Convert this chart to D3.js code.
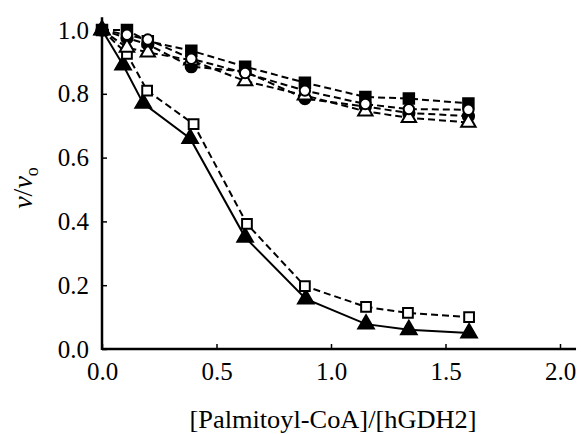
<!DOCTYPE html>
<html>
<head>
<meta charset="utf-8">
<script src="https://cdn.jsdelivr.net/npm/d3@7"></script>
<style>
  body { margin: 0; background: #fff; }
</style>
</head>
<body>
<svg id="chart" width="581" height="434"></svg>
<script>
// ratio [Palmitoyl-CoA]/[hGDH2]
const xTop = [0, 0.109, 0.2, 0.39, 0.625, 0.886, 1.15, 1.34, 1.6];
const xOpenSq = [0, 0.109, 0.197, 0.4, 0.633, 0.886, 1.153, 1.336, 1.603];
const xFilledTri = [0, 0.092, 0.18, 0.385, 0.625, 0.89, 1.153, 1.34, 1.603];

// v/vo
const filledSquares = [1.0, 1.0, 0.965, 0.935, 0.885, 0.835, 0.79, 0.785, 0.77];
const openCircles = [1.0, 0.985, 0.97, 0.91, 0.865, 0.81, 0.768, 0.752, 0.75];
const filledCircles = [1.0, 0.975, 0.955, 0.885, 0.87, 0.785, 0.76, 0.74, 0.73];
const openTriangles = [1.0, 0.945, 0.93, 0.905, 0.84, 0.795, 0.745, 0.725, 0.71];
const openSquares = [1.0, 0.925, 0.81, 0.705, 0.392, 0.197, 0.132, 0.113, 0.1];
const filledTriangles = [1.0, 0.89, 0.77, 0.66, 0.35, 0.157, 0.078, 0.06, 0.05];

const xTicks = [0, 0.5, 1.0, 1.5, 2.0];
const yTicks = [0, 0.2, 0.4, 0.6, 0.8, 1.0];

const FONT = "'Liberation Serif', 'Times New Roman', serif";
const svg = d3.select("#chart");
const x = d3.scaleLinear().domain([0, 2]).range([102, 560]);
const y = d3.scaleLinear().domain([0, 1]).range([349, 30]);
const fmt = d3.format(".1f");

// bottom curves first so the top group (and its filled square at the origin) sits above
const series = [
  { xs: xFilledTri, ys: filledTriangles, shape: d3.symbolTriangle, fill: "#000", dash: null, size: 105 },
  { xs: xOpenSq, ys: openSquares, shape: d3.symbolSquare, fill: "#fff", dash: "7,4", size: 95 },
  { xs: xTop, ys: filledCircles, shape: d3.symbolCircle, fill: "#000", dash: "7,4", size: 100 },
  { xs: xTop, ys: openTriangles, shape: d3.symbolTriangle, fill: "#fff", dash: "7,4", size: 90 },
  { xs: xTop, ys: filledSquares, shape: d3.symbolSquare, fill: "#000", dash: "7,4", size: 110 },
  { xs: xTop, ys: openCircles, shape: d3.symbolCircle, fill: "#fff", dash: "7,4", size: 85 }
];

// axes
const xAxis = d3.axisBottom(x).tickValues(xTicks).tickFormat(fmt)
  .tickSizeInner(-5).tickSizeOuter(0).tickPadding(13);
const yAxis = d3.axisLeft(y).tickValues(yTicks).tickFormat(fmt)
  .tickSizeInner(-5).tickSizeOuter(0).tickPadding(13);

const gx = svg.append("g").attr("transform", "translate(0," + y(0) + ")").call(xAxis);
const gy = svg.append("g").attr("transform", "translate(" + x(0) + ",0)").call(yAxis);
[gx, gy].forEach(g => {
  g.attr("font-family", null).attr("font-size", null);
  g.select(".domain").remove();
  g.selectAll(".tick line").attr("stroke", "#000").attr("stroke-width", 1.5);
  g.selectAll(".tick text")
    .style("font-family", FONT)
    .style("font-size", "25px")
    .attr("fill", "#000");
});
gx.selectAll(".tick text").attr("dy", "0.71em");

svg.append("line")
  .attr("x1", x(0)).attr("x2", x(2.07))
  .attr("y1", y(0)).attr("y2", y(0))
  .attr("stroke", "#000").attr("stroke-width", 2.5);
svg.append("line")
  .attr("x1", x(0)).attr("x2", x(0))
  .attr("y1", y(0) + 1).attr("y2", y(1.04))
  .attr("stroke", "#000").attr("stroke-width", 2.5);

// lines
const line = d3.line().x(d => x(d[0])).y(d => y(d[1]));
series.forEach(s => {
  const pts = s.xs.map((v, i) => [v, s.ys[i]]);
  svg.append("path")
    .attr("d", line(pts))
    .attr("fill", "none")
    .attr("stroke", "#000")
    .attr("stroke-width", 2)
    .attr("stroke-dasharray", s.dash);
});

// markers (open circle left off the origin so the filled square shows there)
series.forEach(s => {
  const sym = d3.symbol().type(s.shape).size(s.size);
  const pts = s.xs.map((v, i) => [v, s.ys[i]]);
  svg.append("g").selectAll("path")
    .data(s.ys === openCircles ? pts.slice(1) : pts)
    .join("path")
    .attr("d", sym)
    .attr("transform", d => "translate(" + x(d[0]) + "," + y(d[1]) + ")")
    .attr("fill", s.fill)
    .attr("stroke", "#000")
    .attr("stroke-width", 2);
});

// axis titles
svg.append("text")
  .attr("x", 333).attr("y", 428)
  .attr("text-anchor", "middle")
  .style("font-family", FONT)
  .style("font-size", "25px")
  .attr("textLength", 287).attr("lengthAdjust", "spacingAndGlyphs")
  .text("[Palmitoyl-CoA]/[hGDH2]");

const yl = svg.append("text")
  .attr("transform", "translate(32,188) rotate(-90)")
  .attr("text-anchor", "middle")
  .style("font-family", FONT)
  .style("font-size", "28px");
yl.append("tspan").style("font-style", "italic").text("v");
yl.append("tspan").text("/");
yl.append("tspan").style("font-style", "italic").text("v");
yl.append("tspan").attr("dy", 6).style("font-size", "18px").text("o");
</script>
</body>
</html>
